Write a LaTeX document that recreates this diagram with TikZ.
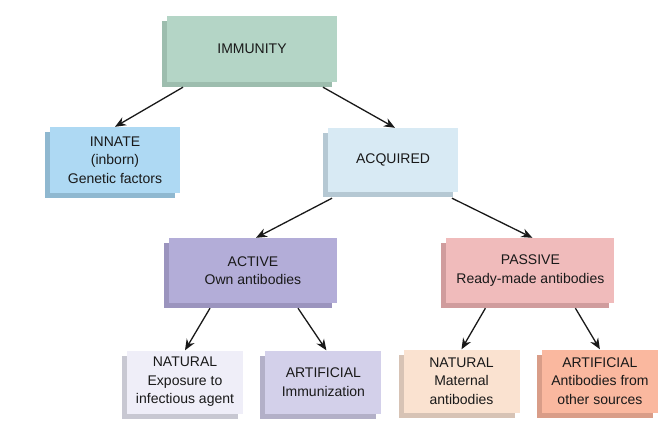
\documentclass[tikz,border=0pt]{standalone}
\usepackage{fontspec}
\setmainfont{Liberation Sans}
\usetikzlibrary{positioning,shadows,arrows.meta}

\definecolor{immfill}{HTML}{B4D5C6} \definecolor{immshade}{HTML}{9DBDAE}
\definecolor{innfill}{HTML}{AED9F3} \definecolor{innshade}{HTML}{8FB8D0}
\definecolor{acqfill}{HTML}{D8EAF4} \definecolor{acqshade}{HTML}{B5C8D3}
\definecolor{actfill}{HTML}{B3ADD8} \definecolor{actshade}{HTML}{9B94BE}
\definecolor{pasfill}{HTML}{F0BBBB} \definecolor{passhade}{HTML}{D09C9D}
\definecolor{natafill}{HTML}{EFEEF8} \definecolor{natashade}{HTML}{C8C8D2}
\definecolor{artafill}{HTML}{D3D0EA} \definecolor{artashade}{HTML}{B3B0C8}
\definecolor{natpfill}{HTML}{FAE2D0} \definecolor{natpshade}{HTML}{D7C3B5}
\definecolor{artpfill}{HTML}{FAB89F} \definecolor{artpshade}{HTML}{D99D88}

\tikzset{
  box/.style 2 args={rectangle, align=center, inner sep=2pt, text=black!90,
    font=\fontsize{14}{18.5}\selectfont, fill=#1,
    drop shadow={shadow xshift=-5pt, shadow yshift=-5pt, opacity=1, fill=#2}},
  leaf/.style 2 args={box={#1}{#2}, minimum width=116pt, minimum height=63pt},
  arr/.style={-{Stealth[length=11pt,width=9pt]}, line width=1.3pt, black!90}
}

\begin{document}
\begin{tikzpicture}[x=1pt, y=-1pt]
\useasboundingbox (0,0) rectangle (670,428);

\node [box={immfill}{immshade}, minimum width=170pt, minimum height=66pt] (immunity) at (252,49) {IMMUNITY};
\node [box={innfill}{innshade}, minimum width=130pt, minimum height=66pt] (innate) at (115,160) {INNATE\\(inborn)\\Genetic factors};
\node [box={acqfill}{acqshade}, minimum width=130pt, minimum height=64pt] (acquired) at (393,160) {ACQUIRED};

\node [box={actfill}{actshade}, minimum width=168pt, minimum height=65pt] (active) at (253,270.5) {ACTIVE\\Own antibodies};
\node [box={pasfill}{passhade}, minimum width=168pt, minimum height=65pt, right=109pt of active] (passive) {PASSIVE\\Ready-made antibodies};

\node [leaf={natafill}{natashade}] (natact) at (185,382) {NATURAL\\Exposure to\\infectious agent};
\node [leaf={artafill}{artashade}, right=22pt of natact] (artact) {ARTIFICIAL\\Immunization};
\node [leaf={natpfill}{natpshade}] (natpas) at (461.5,381) {NATURAL\\Maternal\\antibodies};
\node [leaf={artpfill}{artpshade}, right=22pt of natpas] (artpas) {ARTIFICIAL\\Antibodies from\\other sources};

\draw [arr] ([xshift=-69pt,yshift=-5pt]immunity.south) -- (innate.north);
\draw [arr] ([xshift=71pt,yshift=-5pt]immunity.south) -- ([xshift=2pt]acquired.north);
\draw [arr] ([xshift=-61pt,yshift=-6pt]acquired.south) -- ([xshift=3pt]active.north);
\draw [arr] ([xshift=59pt,yshift=-6pt]acquired.south) -- ([xshift=2pt]passive.north);
\draw [arr] ([xshift=-43pt,yshift=-5pt]active.south) -- (natact.north);
\draw [arr] ([xshift=45pt,yshift=-5pt]active.south) -- ([xshift=3pt]artact.north);
\draw [arr] ([xshift=-45pt,yshift=-5pt]passive.south) -- (natpas.north);
\draw [arr] ([xshift=45pt,yshift=-5pt]passive.south) -- (artpas.north);
\end{tikzpicture}
\end{document}
